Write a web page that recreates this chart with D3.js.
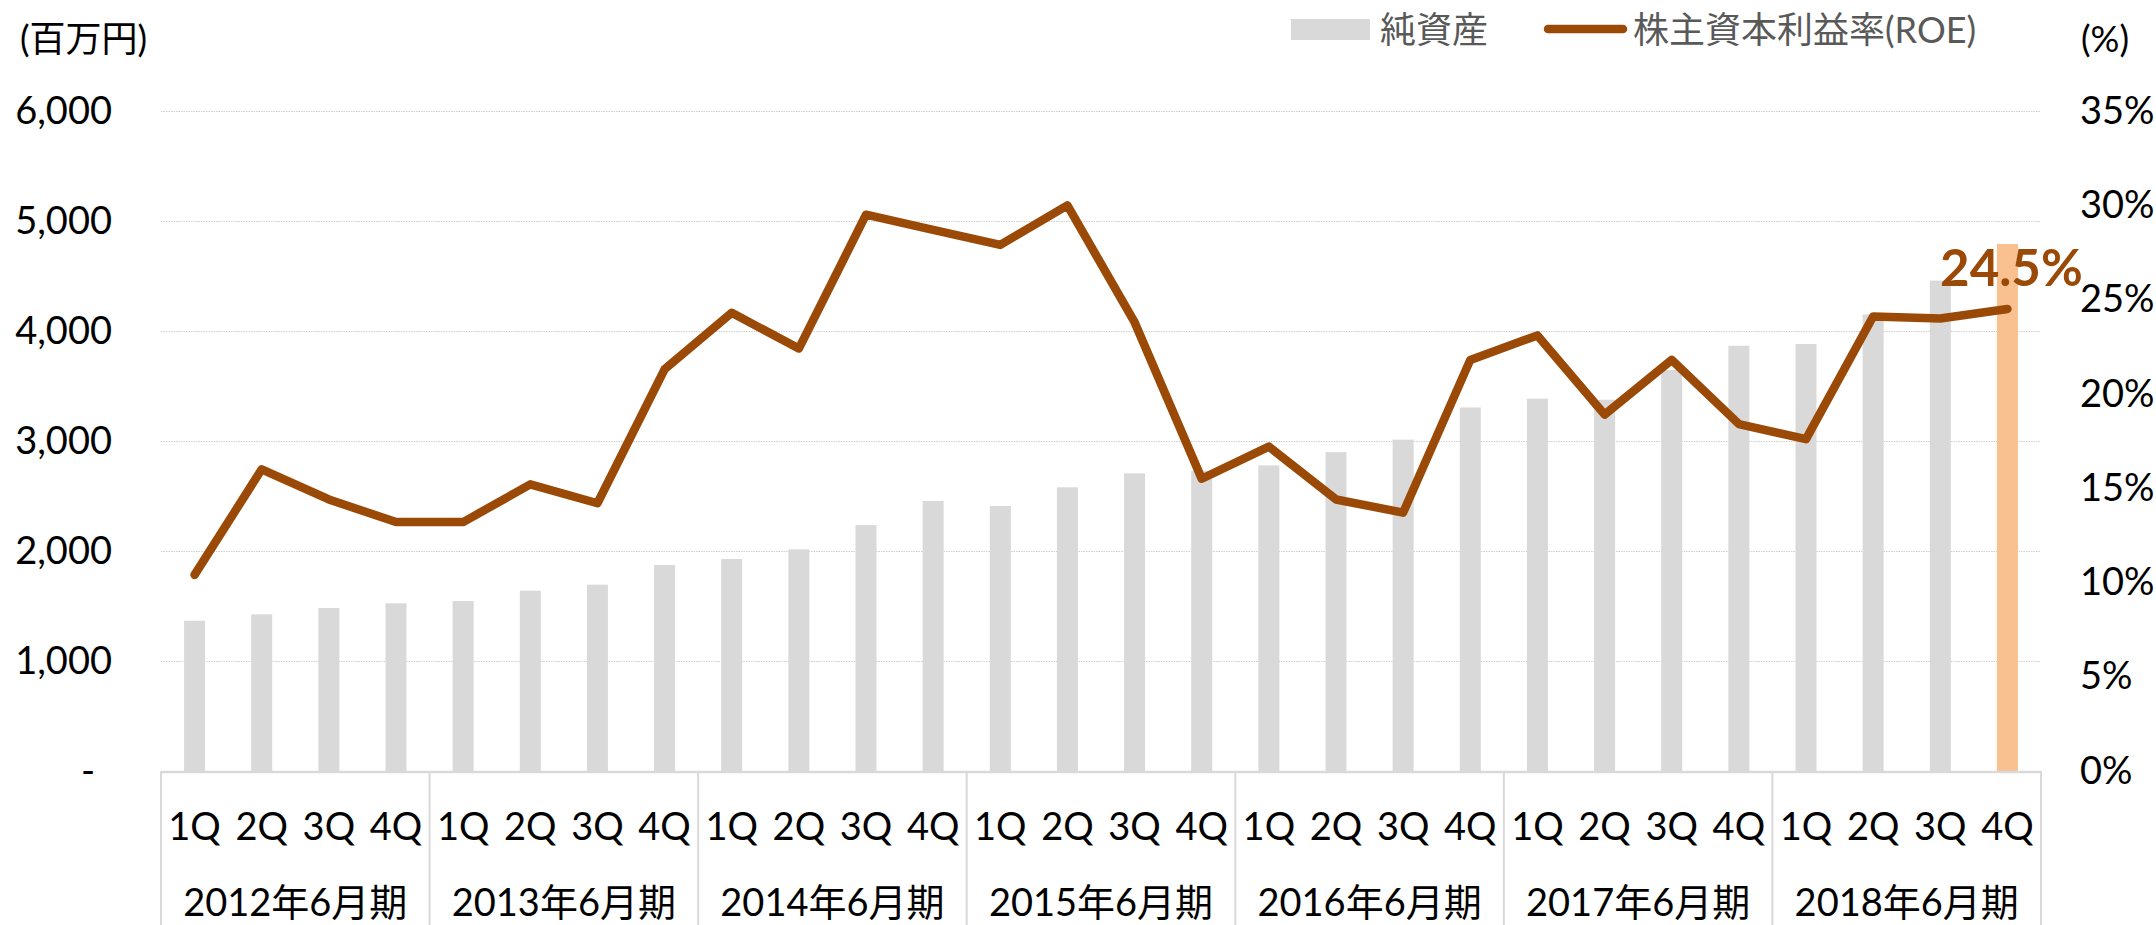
<!DOCTYPE html>
<html>
<head>
<meta charset="utf-8">
<script src="https://cdn.jsdelivr.net/npm/d3@7"></script>
<style>
  html, body { margin: 0; padding: 0; background: #fff; }
  svg { display: block; }
  text { font-family: Lato, "Noto Sans CJK JP", sans-serif; }
</style>
</head>
<body>
<svg id="chart" width="2156" height="925"></svg>
<script>
// ---- data ----
const years = ["2012年6月期", "2013年6月期", "2014年6月期", "2015年6月期", "2016年6月期", "2017年6月期", "2018年6月期"];
const quarters = ["1Q", "2Q", "3Q", "4Q"];
const netAssets = [1366, 1424, 1482, 1524, 1545, 1639, 1694, 1873, 1927, 2015, 2236, 2455, 2409, 2579, 2706, 2730, 2778, 2899, 3012, 3305, 3385, 3375, 3645, 3866, 3882, 4150, 4458, 4791];
const roe = [10.4, 16.0, 14.4, 13.2, 13.2, 15.2, 14.2, 21.3, 24.3, 22.4, 29.5, 28.7, 27.9, 30.0, 23.8, 15.5, 17.2, 14.4, 13.7, 21.8, 23.1, 18.9, 21.8, 18.4, 17.6, 24.1, 24.0, 24.5];
const leftTicks = [0, 1000, 2000, 3000, 4000, 5000, 6000];
const rightTicks = [0, 5, 10, 15, 20, 25, 30, 35];
const seriesNames = ["純資産", "株主資本利益率(ROE)"];
const leftUnit = "(百万円)";
const rightUnit = "(%)";
const highlightLabel = "24.5%";

(function () {
// categories
const cats = [];
years.forEach((y, yi) => quarters.forEach((q, qi) => cats.push({ key: y + "-" + q, year: y, q: q, yi: yi })));

// ---- layout ----
const svg = d3.select("#chart");
const pLeft = 161, pRight = 2041, pTop = 111, pBase = 771;
const pad = 0.687;
const x = d3.scaleBand().domain(cats.map(c => c.key)).range([pLeft, pRight]).paddingInner(pad).paddingOuter(pad / 2);
const yL = d3.scaleLinear().domain([0, 6000]).range([pBase, pTop]);
const yR = d3.scaleLinear().domain([0, 35]).range([pBase, pTop]);
const cx = k => x(k) + x.bandwidth() / 2;

// gridlines
svg.append("g").selectAll("line").data(leftTicks.filter(d => d > 0)).join("line")
  .attr("x1", pLeft).attr("x2", pRight)
  .attr("y1", d => Math.round(yL(d)) + 0.5).attr("y2", d => Math.round(yL(d)) + 0.5)
  .attr("stroke", "#cfcfcf").attr("stroke-width", 1).attr("stroke-dasharray", "1.5,1");

// bars
svg.append("g").selectAll("rect").data(cats).join("rect")
  .attr("x", d => x(d.key)).attr("width", x.bandwidth())
  .attr("y", (d, i) => yL(netAssets[i])).attr("height", (d, i) => pBase - yL(netAssets[i]))
  .attr("fill", (d, i) => i === cats.length - 1 ? "#F8C18F" : "#D9D9D9");

// category axis lines
const step = x.step();
svg.append("line").attr("x1", pLeft).attr("x2", pRight).attr("y1", pBase + 1).attr("y2", pBase + 1)
  .attr("stroke", "#D9D9D9").attr("stroke-width", 2.5);
svg.append("g").selectAll("line").data(d3.range(years.length + 1)).join("line")
  .attr("x1", d => pLeft + d * 4 * step).attr("x2", d => pLeft + d * 4 * step)
  .attr("y1", pBase).attr("y2", 925)
  .attr("stroke", "#D9D9D9").attr("stroke-width", 2);

// ROE line
const line = d3.line().x((d, i) => cx(cats[i].key)).y(d => yR(d));
svg.append("path").datum(roe).attr("d", line)
  .attr("fill", "none").attr("stroke", "#9A4A06").attr("stroke-width", 8.5)
  .attr("stroke-linecap", "round").attr("stroke-linejoin", "round");

// left axis
const axL = svg.append("g").attr("transform", `translate(${pLeft},0)`)
  .call(d3.axisLeft(yL).tickValues(leftTicks).tickSize(0).tickPadding(49)
    .tickFormat(d => d === 0 ? "-" : d3.format(",")(d)));
axL.select(".domain").remove();
axL.selectAll("text").attr("font-size", 38).attr("fill", "#000")
  .style("font-family", "Lato, 'Noto Sans CJK JP', sans-serif");
axL.selectAll(".tick").filter(d => d === 0).select("text").attr("x", -66);

// right axis
const axR = svg.append("g").attr("transform", `translate(${pRight},0)`)
  .call(d3.axisRight(yR).tickValues(rightTicks).tickSize(0).tickPadding(39)
    .tickFormat(d => d + "%"));
axR.select(".domain").remove();
axR.selectAll("text").attr("font-size", 38).attr("fill", "#000")
  .style("font-family", "Lato, 'Noto Sans CJK JP', sans-serif");

// quarter labels
svg.append("g").selectAll("text").data(cats).join("text")
  .attr("x", d => cx(d.key)).attr("y", 840)
  .attr("text-anchor", "middle").attr("font-size", 38).attr("fill", "#000")
  .text(d => d.q);

// year labels
svg.append("g").selectAll("text").data(years).join("text")
  .attr("x", (d, i) => pLeft + (i * 4 + 2) * step).attr("y", 916)
  .attr("text-anchor", "middle").attr("font-size", 38).attr("fill", "#000")
  .text(d => d);

// unit labels
svg.append("text").attr("x", 20).attr("y", 38).attr("dominant-baseline", "central")
  .attr("font-size", 36).attr("fill", "#000").text(leftUnit);
svg.append("text").attr("x", 2081).attr("y", 38).attr("dominant-baseline", "central")
  .attr("font-size", 36).attr("fill", "#000").text(rightUnit);

// legend
const lg = svg.append("g");
lg.append("rect").attr("x", 1291).attr("y", 19).attr("width", 79).attr("height", 21).attr("fill", "#D9D9D9");
lg.append("text").attr("x", 1380).attr("y", 29).attr("dominant-baseline", "central")
  .attr("font-size", 36).attr("fill", "#595959").text(seriesNames[0]);
lg.append("line").attr("x1", 1548).attr("x2", 1623).attr("y1", 29).attr("y2", 29)
  .attr("stroke", "#9A4A06").attr("stroke-width", 8.5).attr("stroke-linecap", "round");
lg.append("text").attr("x", 1633).attr("y", 29).attr("dominant-baseline", "central")
  .attr("font-size", 36).attr("fill", "#595959").text(seriesNames[1]);

// highlight label
const lastKey = cats[cats.length - 1].key;
svg.append("text").attr("x", cx(lastKey) + 4).attr("y", 286)
  .attr("text-anchor", "middle").attr("font-size", 51).attr("font-weight", "bold")
  .attr("fill", "#9A4A06").text(highlightLabel);
})();
</script>
</body>
</html>
